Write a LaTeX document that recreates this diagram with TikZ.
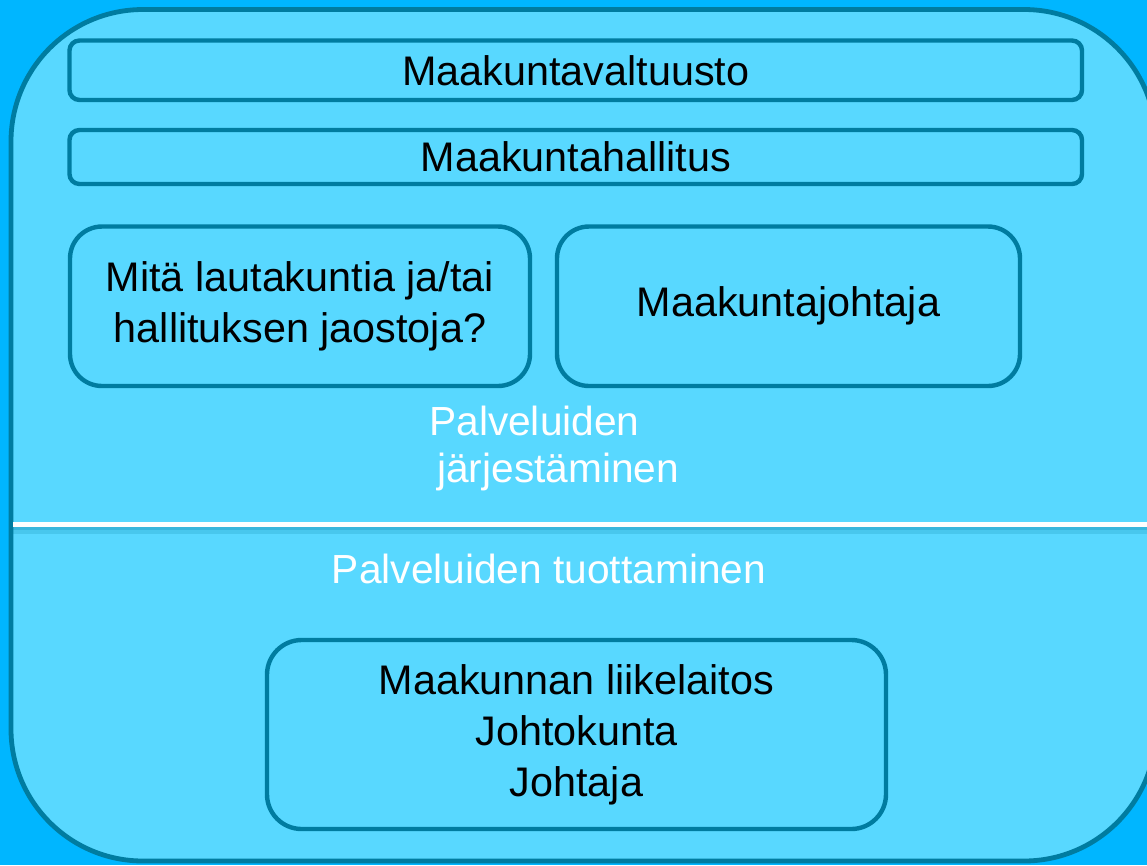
\documentclass[tikz,border=0pt]{standalone}
\usepackage{fontspec}
\setmainfont{Liberation Sans}
\definecolor{bgblue}{HTML}{00B6FF}
\definecolor{fillcyan}{HTML}{58D8FF}
\definecolor{bordteal}{HTML}{007CA0}
\tikzset{
  panel/.style={draw=bordteal, fill=fillcyan, line width=3.6pt, rounded corners=99pt},
  bar/.style={draw=bordteal, fill=fillcyan, line width=3.3pt, rounded corners=7.5pt, inner sep=0pt, text=black,
     font=\fontsize{31}{38.25}\selectfont, align=center},
  card/.style={draw=bordteal, fill=fillcyan, line width=3.3pt, rounded corners=24pt, inner sep=0pt, text=black,
     font=\fontsize{31}{38.25}\selectfont, align=center},
  whitelabel/.style={text=white, inner sep=0pt, font=\fontsize{30.5}{38.25}\selectfont},
}
\begin{document}
\begin{tikzpicture}[x=0.75pt,y=-0.75pt]
\useasboundingbox (0,0) rectangle (1147,865);
\fill[bgblue] (0,0) rectangle (1147,865);
% main panel
\draw[panel] (11,9.5) rectangle (1156,861);
% divider with shadow
\fill[bordteal, opacity=0.35] (13,527) rectangle (1147,530);
\fill[bordteal, opacity=0.18] (13,530) rectangle (1147,534);
\draw[white, line width=3.75pt] (13,524.5) -- (1147,524.5);
% boxes
\node[bar, minimum width=759.4pt, minimum height=44.6pt] (valtuusto) at (575.75,70.25) {Maakuntavaltuusto};
\node[bar, minimum width=759.4pt, minimum height=40.5pt] (hallitus) at (575.75,157) {Maakuntahallitus};
\node[card, minimum width=345pt, minimum height=119.6pt] (lautakunnat) at (300,306.25) {Mitä lautakuntia ja/tai\\hallituksen jaostoja?};
\node[card, minimum width=347.25pt, minimum height=119.6pt] (johtaja) at (788.5,306.25) {Maakuntajohtaja};
\node[card, minimum width=464.25pt, minimum height=141.75pt, rounded corners=26pt] (liikelaitos) at (576.5,734.5) {Maakunnan liikelaitos\\Johtokunta\\Johtaja};
% white labels
\node[whitelabel, anchor=base west] (jarj1) at (429,435) {Palveluiden};
\node[whitelabel, anchor=base west] (jarj2) at (437,482) {järjestäminen};
\node[whitelabel, anchor=base] (tuott) at (549,583) {Palveluiden tuottaminen};
\end{tikzpicture}
\end{document}
